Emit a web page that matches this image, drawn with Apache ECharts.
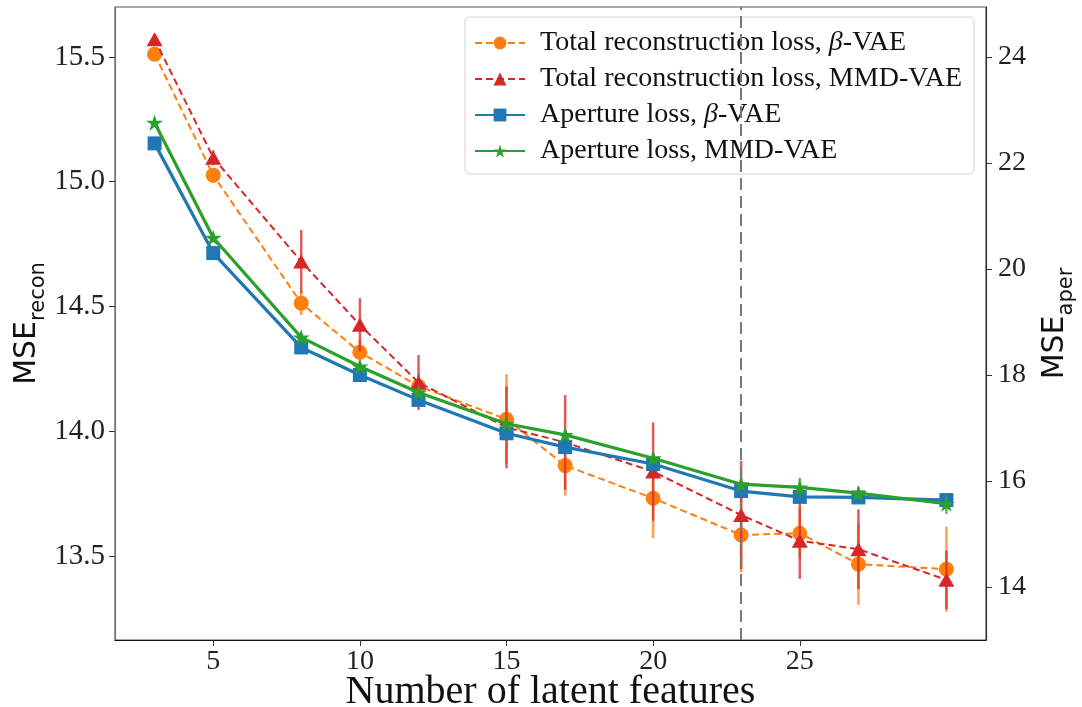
<!DOCTYPE html>
<html>
<head>
<meta charset="utf-8">
<script src="https://cdn.jsdelivr.net/npm/echarts@6/dist/echarts.min.js"></script>
<style>
html,body{margin:0;padding:0;background:#fff;}
#chart{width:1082px;height:707px;}
</style>
</head>
<body>
<div id="chart"></div>
<script>
// ---- data ----
const latentFeatures = [3, 5, 8, 10, 12, 15, 17, 20, 23, 25, 27, 30];
const totalBeta      = [15.511, 15.026, 14.513, 14.316, 14.180, 14.048, 13.862, 13.731, 13.584, 13.591, 13.467, 13.447];
const totalBetaErr   = [0.02, 0.03, 0.047, 0.05, 0.05, 0.18, 0.12, 0.16, 0.15, 0.10, 0.163, 0.17];
const totalMMD       = [15.571, 15.096, 14.680, 14.426, 14.195, 14.015, 13.955, 13.838, 13.664, 13.561, 13.527, 13.404];
const totalMMDErr    = [0.02, 0.03, 0.127, 0.107, 0.11, 0.164, 0.19, 0.197, 0.217, 0.153, 0.16, 0.117];
const aperBeta       = [22.37, 20.30, 18.52, 18.00, 17.53, 16.90, 16.64, 16.32, 15.81, 15.70, 15.69, 15.64];
const aperBetaErr    = [0.05, 0.05, 0.05, 0.05, 0.05, 0.06, 0.06, 0.06, 0.08, 0.08, 0.08, 0.12];
const aperMMD        = [22.76, 20.59, 18.71, 18.16, 17.67, 17.08, 16.87, 16.43, 15.94, 15.88, 15.77, 15.57];
const aperMMDErr     = [0.05, 0.05, 0.05, 0.05, 0.05, 0.08, 0.08, 0.10, 0.10, 0.18, 0.12, 0.19];
const xTicks     = [5, 10, 15, 20, 25];
const leftTicks  = [13.5, 14.0, 14.5, 15.0, 15.5];
const rightTicks = [14, 16, 18, 20, 22, 24];
const chosenLatent = 23;
const names = [
  'Total reconstruction loss, β-VAE',
  'Total reconstruction loss, MMD-VAE',
  'Aperture loss, β-VAE',
  'Aperture loss, MMD-VAE'
];
const colors = ['#ff7f0e', '#d62728', '#1f77b4', '#2ca02c'];

const starPath = 'path://M50 0 L61.23 34.55 L97.55 34.55 L68.17 55.9 L79.39 90.45 L50 69.1 L20.61 90.45 L31.83 55.9 L2.45 34.55 L38.77 34.55 Z';

function pairs(ys) { return latentFeatures.map((x, i) => [x, ys[i]]); }
function errData(ys, es) { return latentFeatures.map((x, i) => [x, ys[i] - es[i], ys[i] + es[i]]); }

function errSeries(ys, es, color, yAxisIndex, z) {
  return {
    type: 'custom',
    yAxisIndex: yAxisIndex,
    z: z,
    silent: true,
    encode: { x: 0, y: [1, 2] },
    data: errData(ys, es),
    renderItem: function (params, api) {
      const lo = api.coord([api.value(0), api.value(1)]);
      const hi = api.coord([api.value(0), api.value(2)]);
      return {
        type: 'line',
        shape: { x1: lo[0], y1: lo[1], x2: hi[0], y2: hi[1] },
        style: { stroke: color, lineWidth: 2.5, opacity: 0.75 }
      };
    }
  };
}

const serif = 'Liberation Serif';
const chart = echarts.init(document.getElementById('chart'), null, { renderer: 'canvas' });

const subRich = {
  m: { fontFamily: 'DejaVu Sans', fontSize: 30, color: '#111', lineHeight: 37, verticalAlign: 'top' },
  s: { fontFamily: 'DejaVu Sans', fontSize: 21, color: '#111', lineHeight: 21, verticalAlign: 'bottom' }
};

const option = {
  animation: false,
  backgroundColor: '#ffffff',
  grid: {
    left: 115, right: 96, top: 7, bottom: 67,
    outerBoundsMode: 'none', containLabel: false,
    show: true, borderColor: '#555', borderWidth: 1.2, backgroundColor: 'transparent'
  },
  legend: {
    data: names,
    orient: 'vertical',
    left: 465, top: 17,
    padding: [12, 12, 9, 9],
    itemWidth: 50, itemHeight: 16, itemGap: 8,
    backgroundColor: 'rgba(255,255,255,0.8)',
    borderColor: '#d4d4d4', borderWidth: 1, borderRadius: 5,
    textStyle: {
      fontFamily: serif, fontSize: 28, color: '#111', lineHeight: 27, padding: [0, 0, 0, 10],
      rich: {
        n: { fontFamily: serif, fontSize: 28, color: '#111' },
        b: { fontFamily: serif, fontSize: 28, fontStyle: 'italic', color: '#111' }
      }
    },
    formatter: function (name) {
      const parts = name.split('β');
      if (parts.length === 2) return '{n|' + parts[0] + '}{b|β}{n|' + parts[1] + '}';
      return '{n|' + name + '}';
    }
  },
  xAxis: {
    type: 'value', min: 1.65, max: 31.35,
    name: 'Number of latent features',
    nameLocation: 'middle', nameGap: 32, nameMoveOverlap: false,
    nameTextStyle: { fontFamily: serif, fontSize: 40, color: '#111' },
    axisLine: { show: true, lineStyle: { color: '#111', width: 1.2 } },
    axisTick: { show: true, length: 6, customValues: xTicks, lineStyle: { color: '#333' } },
    axisLabel: { customValues: xTicks, fontFamily: serif, fontSize: 28, color: '#222', margin: 8 },
    splitLine: { show: false }
  },
  yAxis: [
    {
      type: 'value', min: 13.163, max: 15.70, position: 'left',
      name: '{m|MSE}{s|recon}',
      nameLocation: 'middle', nameRotate: 90, nameGap: 66, nameMoveOverlap: false,
      nameTextStyle: { rich: subRich },
      axisLine: { show: true, lineStyle: { color: '#777', width: 1.2 } },
      axisTick: { show: true, length: 6, customValues: leftTicks, lineStyle: { color: '#333' } },
      axisLabel: {
        customValues: leftTicks, fontFamily: serif, fontSize: 29, color: '#222', margin: 10,
        formatter: v => v.toFixed(1)
      },
      splitLine: { show: false }
    },
    {
      type: 'value', min: 13.0, max: 24.943, position: 'right',
      name: '{m|MSE}{s|aper}',
      nameLocation: 'middle', nameRotate: 90, nameGap: 54, nameMoveOverlap: false,
      nameTextStyle: { rich: subRich },
      axisLine: { show: true, lineStyle: { color: '#333', width: 1.2 } },
      axisTick: { show: true, length: 6, customValues: rightTicks, lineStyle: { color: '#333' } },
      axisLabel: { customValues: rightTicks, fontFamily: serif, fontSize: 28, color: '#222', margin: 12 },
      splitLine: { show: false }
    }
  ],
  series: [
    errSeries(totalBeta, totalBetaErr, colors[0], 0, 2),
    {
      name: names[0], type: 'line', yAxisIndex: 0, z: 3,
      data: pairs(totalBeta),
      symbol: 'circle', symbolSize: 15,
      lineStyle: { color: colors[0], width: 2, type: [7, 4] },
      itemStyle: { color: colors[0] },
      markLine: {
        silent: true, symbol: 'none', label: { show: false },
        lineStyle: { color: '#777', width: 2, type: [12, 6] },
        data: [{ xAxis: chosenLatent }]
      }
    },
    errSeries(totalMMD, totalMMDErr, colors[1], 0, 4),
    {
      name: names[1], type: 'line', yAxisIndex: 0, z: 5,
      data: pairs(totalMMD),
      symbol: 'triangle', symbolSize: [16, 14],
      lineStyle: { color: colors[1], width: 2, type: [7, 4] },
      itemStyle: { color: colors[1] }
    },
    errSeries(aperBeta, aperBetaErr, colors[2], 1, 6),
    {
      name: names[2], type: 'line', yAxisIndex: 1, z: 7,
      data: pairs(aperBeta),
      symbol: 'rect', symbolSize: 14,
      lineStyle: { color: colors[2], width: 3.2 },
      itemStyle: { color: colors[2] }
    },
    errSeries(aperMMD, aperMMDErr, colors[3], 1, 8),
    {
      name: names[3], type: 'line', yAxisIndex: 1, z: 9,
      data: pairs(aperMMD),
      symbol: starPath, symbolSize: 17, symbolKeepAspect: true,
      lineStyle: { color: colors[3], width: 3.2 },
      itemStyle: { color: colors[3] }
    }
  ]
};
chart.setOption(option);
</script>
</body>
</html>
